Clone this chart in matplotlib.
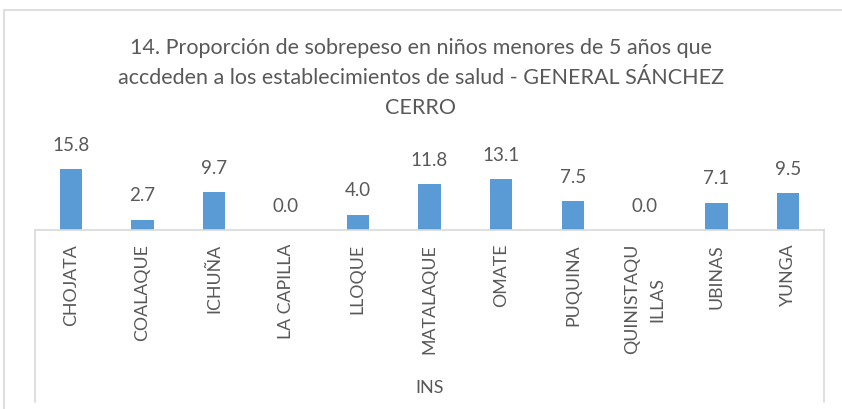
import matplotlib
matplotlib.use("Agg")
import matplotlib.pyplot as plt
from matplotlib.patches import Rectangle

categories = ["CHOJATA", "COALAQUE", "ICHUÑA", "LA CAPILLA", "LLOQUE", "MATALAQUE",
              "OMATE", "PUQUINA", "QUINISTAQU\nILLAS", "UBINAS", "YUNGA"]
values = [15.8, 2.7, 9.7, 0.0, 4.0, 11.8, 13.1, 7.5, 0.0, 7.1, 9.5]
group_label = "INS"
title = ("14. Proporción de sobrepeso en niños menores de 5 años que\n"
         "accdeden a los establecimientos de salud - GENERAL SÁNCHEZ\nCERRO")

plt.rcParams['font.family'] = ['Lato', 'DejaVu Sans']
W, H = 842, 409
fig = plt.figure(figsize=(W / 100, H / 100), dpi=100)
txt = '#595959'
grid = '#D9D9D9'

# chart border
fig.patches.append(Rectangle((4 / W, -0.01), 1, (H - 10) / H + 0.01, transform=fig.transFigure,
                             fill=False, edgecolor='#D9D9D9', lw=1.2))

x0, x1 = 35, 824
ybase = 230
ymax = 20
ppu = 3.87
ytop = ybase - ymax * ppu
ax = fig.add_axes([x0 / W, (H - ybase) / H, (x1 - x0) / W, (ybase - ytop) / H])
xs = list(range(len(categories)))
bars = ax.bar(xs, values, width=0.31, color='#5B9BD5')
ax.set_xlim(-0.5, len(categories) - 0.5)
ax.set_ylim(0, ymax)
for s in ['top', 'right', 'left']:
    ax.spines[s].set_visible(False)
ax.spines['bottom'].set_color(grid)
ax.spines['bottom'].set_linewidth(1.2)
ax.set_yticks([])
ax.set_xticks(xs)
ax.set_xticklabels(categories, rotation=90, va='top', ha='center', color=txt,
                   fontsize=12.8, linespacing=1.75)
ax.tick_params(axis='x', length=0, pad=10)
for b, v in zip(bars, values):
    ax.annotate(f"{v:.1f}", (b.get_x() + b.get_width() / 2, v), xytext=(0, 17),
                textcoords='offset points', ha='center', va='center',
                fontsize=13.5, color=txt)

# category group box lines
ybot = 402
frac = (ybot - ybase) / (ybase - ytop)
for xa in (0, 1):
    ax.plot([xa, xa], [0, -frac], transform=ax.transAxes, color=grid, lw=1.2,
            clip_on=False)
ax.text(0.5, -(388 - ybase) / (ybase - ytop), group_label, transform=ax.transAxes,
        ha='center', va='center', fontsize=13, color=txt)

fig.text(0.5, 1 - 78 / H, title, ha='center', va='center', fontsize=15.5,
         color=txt, linespacing=1.6)

fig.savefig("out.png", dpi=100)
